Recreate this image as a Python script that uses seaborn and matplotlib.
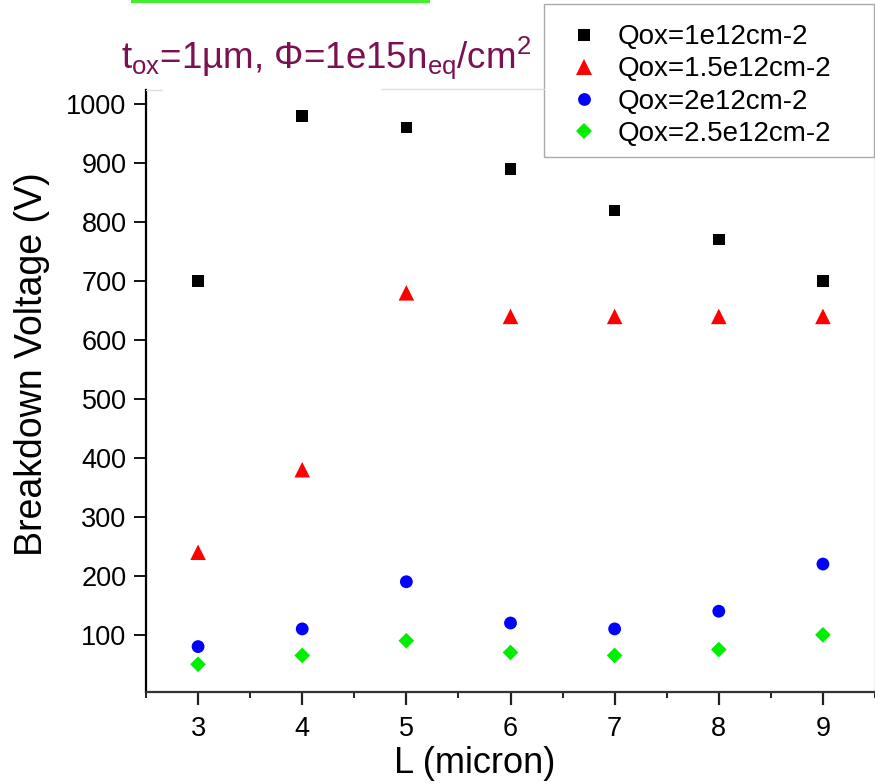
import matplotlib
matplotlib.use("Agg")
import matplotlib.pyplot as plt
from matplotlib.lines import Line2D
from matplotlib.patches import Rectangle
from matplotlib.ticker import MultipleLocator
import seaborn as sns
import pandas as pd

# ---- data ----
L_values = [3, 4, 5, 6, 7, 8, 9]
qox_labels = ["Qox=1e12cm-2", "Qox=1.5e12cm-2", "Qox=2e12cm-2", "Qox=2.5e12cm-2"]
v_q1 = [700, 980, 960, 890, 820, 770, 700]
v_q15 = [240, 380, 680, 640, 640, 640, 640]
v_q2 = [80, 110, 190, 120, 110, 140, 220]
v_q25 = [50, 65, 90, 70, 65, 75, 100]
x_ticks = [3, 4, 5, 6, 7, 8, 9]
y_ticks = [100, 200, 300, 400, 500, 600, 700, 800, 900, 1000]

rows = []
for lab, vals in zip(qox_labels, [v_q1, v_q15, v_q2, v_q25]):
    for x, v in zip(L_values, vals):
        rows.append({"L": x, "V": v, "Qox": lab})
df = pd.DataFrame(rows)

sns.set_theme(style="ticks")
plt.rcParams["font.family"] = ["Liberation Sans", "DejaVu Sans"]
plt.rcParams["mathtext.fontset"] = "custom"
plt.rcParams["mathtext.rm"] = "Liberation Sans"
plt.rcParams["mathtext.it"] = "Liberation Sans"
plt.rcParams["text.color"] = "black"
plt.rcParams["axes.labelcolor"] = "black"
plt.rcParams["xtick.color"] = "black"
plt.rcParams["ytick.color"] = "black"

fig = plt.figure(figsize=(8.75, 7.84), dpi=100)
ax = fig.add_axes([146 / 875, 1 - 692 / 784, 1 - 146 / 875, (692 - 90) / 784])

palette = {qox_labels[0]: "#000000", qox_labels[1]: "#FF0000",
           qox_labels[2]: "#0000FF", qox_labels[3]: "#00EE00"}
markers = {qox_labels[0]: "s", qox_labels[1]: "^",
           qox_labels[2]: "o", qox_labels[3]: "D"}
sizes = {qox_labels[0]: 68, qox_labels[1]: 125,
         qox_labels[2]: 85, qox_labels[3]: 64}

sns.scatterplot(data=df, x="L", y="V", hue="Qox", style="Qox", size="Qox",
                palette=palette, markers=markers, sizes=sizes,
                hue_order=qox_labels, style_order=qox_labels, size_order=qox_labels,
                edgecolor="none", linewidth=0, ax=ax, legend=True)

ax.set_xlim(2.5, 9.5)
ax.set_ylim(3, 1024)
ax.set_xticks(x_ticks)
ax.set_yticks(y_ticks)
ax.xaxis.set_minor_locator(MultipleLocator(0.5))

ax.tick_params(axis="y", which="major", direction="out", length=9, width=1.3,
               labelsize=19.5, pad=5, color="black", labelcolor="black")
ax.tick_params(axis="x", which="major", direction="out", length=9, width=1.6,
               labelsize=19.5, pad=8, color="#222222", labelcolor="black")
ax.tick_params(axis="x", which="minor", direction="out", length=4.5, width=1.4,
               color="#222222")

ax.spines["top"].set_visible(False)
ax.spines["right"].set_color("#BBBBBB")
ax.spines["right"].set_linewidth(1.0)
ax.spines["left"].set_linewidth(1.6)
ax.spines["left"].set_color("black")
ax.spines["bottom"].set_linewidth(1.6)
ax.spines["bottom"].set_color("#333333")

ax.set_xlabel("L (micron)", fontsize=26)
ax.set_ylabel("Breakdown Voltage (V)", fontsize=27)
ax.xaxis.set_label_coords(0.451, -0.09)
ax.yaxis.set_label_coords(-0.132, 0.545)

# legend frame drawn separately so that it reaches the figure's right edge
frame = Rectangle((544 / 875, 1 - 157 / 784), 330 / 875, 153 / 784,
                  transform=fig.transFigure, facecolor="white",
                  edgecolor="#AAAAAA", lw=1.0, zorder=4, clip_on=False)
ax.add_patch(frame)
leg = ax.legend(loc="upper left", bbox_to_anchor=(548 / 875, 1 - 9 / 784),
                bbox_transform=fig.transFigure,
                frameon=False,
                fontsize=20, labelspacing=0.22, handletextpad=0.45,
                borderpad=0.55, handlelength=1.5, borderaxespad=0)
leg.set_zorder(6)
for h, lab in zip(leg.legend_handles, qox_labels):
    try:
        h.set_sizes([sizes[lab] * 1.6])
    except Exception:
        pass

# title text
fig.text(121 / 875, 1 - 68 / 784,
         r"$\mathregular{t_{ox}}$=1µm, Φ=1e15n$\mathregular{_{eq}}$/cm$\mathregular{^2}$",
         fontsize=26.5, color="#7B1150", ha="left", va="baseline")

# decorations: green bar and light gray frame pieces
fig.add_artist(Rectangle((131 / 875, 1 - 3 / 784), (430 - 131) / 875, 3 / 784,
                         transform=fig.transFigure, color="#44EE33", lw=0))
fig.add_artist(Line2D([146 / 875, 162 / 875], [1 - 90 / 784, 1 - 90 / 784],
                      transform=fig.transFigure, color="#DDDDDD", lw=1))
fig.add_artist(Line2D([381 / 875, 544 / 875], [1 - 89 / 784, 1 - 89 / 784],
                      transform=fig.transFigure, color="#DDDDDD", lw=1))

fig.savefig("out.png", dpi=100)
